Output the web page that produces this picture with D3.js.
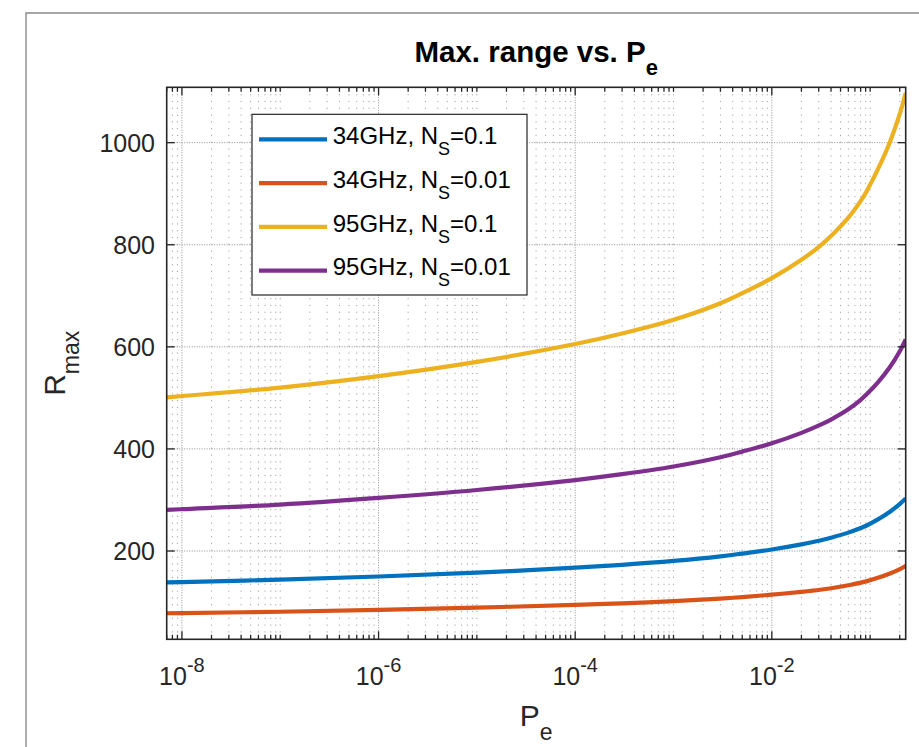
<!DOCTYPE html>
<html>
<head>
<meta charset="utf-8">
<script src="https://cdn.jsdelivr.net/npm/d3@7"></script>
<style>
  html, body { margin: 0; padding: 0; background: #fff; }
  svg { display: block; }
  text { font-family: "Liberation Sans", Arial, Helvetica, sans-serif; }
</style>
</head>
<body>
<svg id="chart" width="919" height="747"></svg>
<script>
// ---------- data ----------
const pe = [7e-9, 1e-8, 1e-7, 1e-6, 1e-5, 1e-4, 3e-4, 1e-3, 3e-3, 5e-3, 1e-2, 0.02, 0.031, 0.04, 0.06, 0.079, 0.091, 0.12, 0.159, 0.201, 0.23];
const r34_01  = [138.5, 139, 144, 150, 157.5, 167.5, 173, 180.5, 189.5, 195, 203, 213, 220.5, 226, 236, 244.5, 249.5, 262, 277, 292.5, 303];
const r34_001 = [78, 78.4, 81, 84.5, 89, 94.5, 97.5, 101.7, 106.7, 109.7, 114.5, 120, 124, 127, 133, 137.5, 140.5, 147.5, 156, 164.5, 171];
const r95_01  = [501, 503.5, 520, 542.5, 570.5, 605.5, 626, 653, 685.5, 705, 734.5, 770.5, 798, 817, 853, 884, 903, 948, 1001.5, 1057.5, 1097.5];
const r95_001 = [280.5, 282, 291, 304, 319.5, 339, 350.5, 365.6, 383.8, 394.7, 411, 431.5, 447, 457.5, 477.5, 495, 506, 530.5, 560.5, 592, 614.5];

const seriesNames = ["34GHz", "34GHz", "95GHz", "95GHz"];
const seriesNs = ["0.1", "0.01", "0.1", "0.01"];
const seriesColors = ["#0072BD", "#D95319", "#EDB120", "#7E2F8E"];
const seriesValues = [r34_01, r34_001, r95_01, r95_001];

const xDomain = [7e-9, 0.23];
const yDomain = [27, 1108.5];
const xMajorExps = [-8, -6, -4, -2];
const xTickLabelExps = ["-8", "-6", "-4", "-2"];
const yTicks = [200, 400, 600, 800, 1000];

// ---------- layout ----------
const svg = d3.select("#chart");
const L = 166.7, R = 905.7, T = 87.3, B = 639.3;
const x = d3.scaleLog().domain(xDomain).range([L, R]);
const y = d3.scaleLinear().domain(yDomain).range([B, T]);
const axisColor = "#262626";

// figure border (cropped)
svg.append("path")
  .attr("d", `M26,760 L26,13 L930,13`)
  .attr("fill", "none").attr("stroke", "#8a8a8a").attr("stroke-width", 1.4);

// plot background
svg.append("rect").attr("x", L).attr("y", T).attr("width", R - L).attr("height", B - T).attr("fill", "#fff");

// minor x positions (2..9 per decade plus odd decades)
const minorX = [];
const majorX = xMajorExps.map(e => Math.pow(10, e));
for (let e = -9; e <= 0; e++) {
  for (let k = 1; k <= 9; k++) {
    const v = k * Math.pow(10, e);
    if (v < xDomain[0] || v > xDomain[1]) continue;
    if (k === 1 && xMajorExps.includes(e)) continue;
    minorX.push(v);
  }
}

const grid = svg.append("g");
// minor vertical grid
grid.selectAll(".mgx").data(minorX).enter().append("line")
  .attr("x1", d => x(d)).attr("x2", d => x(d)).attr("y1", T).attr("y2", B)
  .attr("stroke", "#a3a3a3").attr("stroke-width", 1).attr("stroke-dasharray", "1.2,5.6");
// major vertical grid
grid.selectAll(".Mgx").data(majorX).enter().append("line")
  .attr("x1", d => x(d)).attr("x2", d => x(d)).attr("y1", T).attr("y2", B)
  .attr("stroke", "#8f8f8f").attr("stroke-width", 1).attr("stroke-dasharray", "1,1.5");
// major horizontal grid
grid.selectAll(".Mgy").data(yTicks).enter().append("line")
  .attr("x1", L).attr("x2", R).attr("y1", d => y(d)).attr("y2", d => y(d))
  .attr("stroke", "#8f8f8f").attr("stroke-width", 1).attr("stroke-dasharray", "1,1.5");

// data lines
const clip = svg.append("clipPath").attr("id", "clip");
clip.append("rect").attr("x", L).attr("y", T - 2).attr("width", R - L).attr("height", B - T + 2);
const line = d3.line().x(d => x(d[0])).y(d => y(d[1])).curve(d3.curveCatmullRom.alpha(0.5));
const linesG = svg.append("g").attr("clip-path", "url(#clip)");
seriesValues.forEach((vals, i) => {
  linesG.append("path")
    .datum(pe.map((p, j) => [p, vals[j]]))
    .attr("d", line)
    .attr("fill", "none")
    .attr("stroke", seriesColors[i])
    .attr("stroke-width", 4.2)
    .attr("stroke-linejoin", "round");
});

// ticks
const tk = svg.append("g").attr("stroke", axisColor).attr("stroke-width", 1.3);
const majLen = 8, minLen = 4.5;
majorX.forEach(v => {
  tk.append("line").attr("x1", x(v)).attr("x2", x(v)).attr("y1", B).attr("y2", B - majLen);
  tk.append("line").attr("x1", x(v)).attr("x2", x(v)).attr("y1", T).attr("y2", T + majLen);
});
minorX.forEach(v => {
  tk.append("line").attr("x1", x(v)).attr("x2", x(v)).attr("y1", B).attr("y2", B - minLen);
  tk.append("line").attr("x1", x(v)).attr("x2", x(v)).attr("y1", T).attr("y2", T + minLen);
});
yTicks.forEach(v => {
  tk.append("line").attr("x1", L).attr("x2", L + majLen).attr("y1", y(v)).attr("y2", y(v));
  tk.append("line").attr("x1", R).attr("x2", R - majLen).attr("y1", y(v)).attr("y2", y(v));
});

// box
svg.append("rect").attr("x", L).attr("y", T).attr("width", R - L).attr("height", B - T)
  .attr("fill", "none").attr("stroke", axisColor).attr("stroke-width", 1.6);

// y tick labels
svg.selectAll(".ytl").data(yTicks).enter().append("text")
  .attr("x", 155).attr("y", d => y(d) + 9.3)
  .attr("text-anchor", "end").attr("font-size", 25).attr("fill", axisColor)
  .text(d => d);

// x tick labels 10^e
majorX.forEach((v, i) => {
  const t = svg.append("text").attr("x", x(v)).attr("y", 685)
    .attr("text-anchor", "middle").attr("fill", axisColor).attr("font-size", 25);
  t.append("tspan").text("10");
  t.append("tspan").attr("font-size", 20).attr("dy", -13).text(xTickLabelExps[i]);
});

// title
const title = svg.append("text").attr("x", (L + R) / 2).attr("y", 61.7)
  .attr("text-anchor", "middle").attr("font-size", 29.5).attr("font-weight", "bold").attr("fill", "#000");
title.append("tspan").text("Max. range vs. P");
title.append("tspan").attr("font-size", 22).attr("dy", 13).text("e");

// x label
const xl = svg.append("text").attr("x", (L + R) / 2).attr("y", 726)
  .attr("text-anchor", "middle").attr("font-size", 30).attr("fill", axisColor);
xl.append("tspan").text("P");
xl.append("tspan").attr("font-size", 23).attr("dy", 14).text("e");

// y label
const yl = svg.append("text")
  .attr("transform", `translate(65,${(T + B) / 2}) rotate(-90)`)
  .attr("text-anchor", "middle").attr("font-size", 30).attr("fill", axisColor);
yl.append("tspan").text("R");
yl.append("tspan").attr("font-size", 23).attr("dy", 14).text("max");

// legend
const lg = svg.append("g");
lg.append("rect").attr("x", 252).attr("y", 114.3).attr("width", 275).attr("height", 180.7)
  .attr("fill", "#fff").attr("stroke", axisColor).attr("stroke-width", 1.2);
const rowY0 = 139.3, rowDy = 43.8;
seriesValues.forEach((vals, i) => {
  const ry = rowY0 + i * rowDy;
  lg.append("line").attr("x1", 259).attr("x2", 327).attr("y1", ry).attr("y2", ry)
    .attr("stroke", seriesColors[i]).attr("stroke-width", 4.2);
  const t = lg.append("text").attr("x", 332.7).attr("y", ry + 4.7)
    .attr("font-size", 24).attr("fill", "#000");
  t.append("tspan").text(seriesNames[i] + ", N");
  t.append("tspan").attr("font-size", 18).attr("dy", 11).text("S");
  t.append("tspan").attr("dy", -11).text("=" + seriesNs[i]);
});
</script>
</body>
</html>
